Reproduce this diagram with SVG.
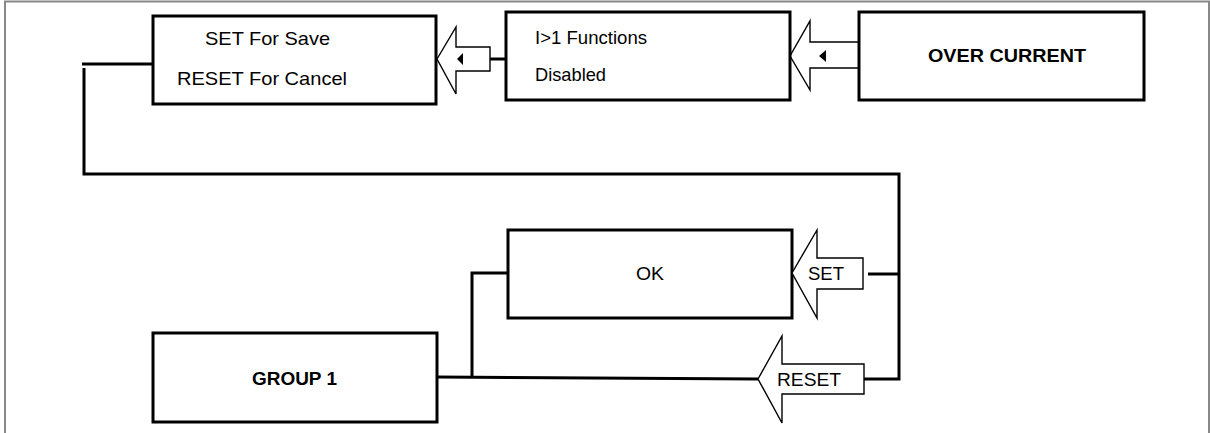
<svg xmlns="http://www.w3.org/2000/svg" width="1210" height="433" viewBox="0 0 1210 433">
  <style>
    .box { fill: #fff; stroke: #000; stroke-width: 3; }
    .arrow { fill: #fff; stroke: #000; stroke-width: 1.4; stroke-linejoin: miter; }
    .wire { fill: none; stroke: #000; stroke-width: 3; }
    .tri { fill: #000; stroke: none; }
    .t { font-family: "Liberation Sans", Arial, sans-serif; font-size: 18.5px; fill: #000; }
    .b { font-family: "Liberation Sans", Arial, sans-serif; font-size: 19px; font-weight: bold; fill: #000; }
  </style>
  <rect x="0" y="0" width="1210" height="433" fill="#fff"/>
  <path d="M5,433 V1.5 H1209 V433" fill="none" stroke="#888" stroke-width="2"/>

  <g id="connectors">
    <line class="wire" x1="82" y1="64" x2="153" y2="64"/>
    <path class="wire" d="M84,68 V174 H899 V379 H864"/>
    <line class="wire" x1="868" y1="274" x2="899" y2="274"/>
    <line class="wire" x1="490" y1="59" x2="506" y2="59"/>
    <line class="wire" x1="437" y1="377" x2="758" y2="379"/>
    <path class="wire" d="M472,378 V273 H508"/>
  </g>

  <g id="arrow-a1">
    <polygon class="arrow" points="437,59 456,27 456,47 490,47 490,71 456,71 456,94"/>
    <polygon class="tri" points="457,59 463,53 463,65"/>
  </g>
  <g id="arrow-a2">
    <path class="arrow" d="M859,42 H810 V21 L790,56 L810,90 V68 H859"/>
    <polygon class="tri" points="819,56 826,50 826,62"/>
  </g>

  <g id="node-save">
    <rect class="box" x="153" y="16" width="283" height="88"/>
    <text class="t" x="205" y="45" textLength="125" lengthAdjust="spacingAndGlyphs">SET For Save</text>
    <text class="t" x="177" y="85" textLength="170" lengthAdjust="spacingAndGlyphs">RESET For Cancel</text>
  </g>
  <g id="node-functions">
    <rect class="box" x="506" y="12" width="284" height="88"/>
    <text class="t" x="535" y="43.5" textLength="112" lengthAdjust="spacingAndGlyphs">I&gt;1 Functions</text>
    <text class="t" x="535" y="81" textLength="71" lengthAdjust="spacingAndGlyphs">Disabled</text>
  </g>
  <g id="node-overcurrent">
    <rect class="box" x="859" y="12" width="285" height="88"/>
    <text class="b" x="928" y="62.3" textLength="158" lengthAdjust="spacingAndGlyphs">OVER CURRENT</text>
  </g>
  <g id="node-ok">
    <rect class="box" x="508" y="230" width="284" height="88"/>
    <text class="t" x="636" y="280" textLength="28" lengthAdjust="spacingAndGlyphs">OK</text>
  </g>
  <g id="node-group1">
    <rect class="box" x="153" y="333" width="284" height="89"/>
    <text class="b" x="252" y="385" textLength="85" lengthAdjust="spacingAndGlyphs">GROUP 1</text>
  </g>
  <g id="arrow-set">
    <polygon class="arrow" points="792,273 817,230 817,258 863,258 863,289 817,289 817,318"/>
    <text class="t" x="808" y="280" textLength="36" lengthAdjust="spacingAndGlyphs">SET</text>
  </g>
  <g id="arrow-reset">
    <polygon class="arrow" points="758,379 782,336 782,364 864,364 864,394 782,394 782,423"/>
    <text class="t" x="777" y="386" textLength="64" lengthAdjust="spacingAndGlyphs">RESET</text>
  </g>
</svg>
